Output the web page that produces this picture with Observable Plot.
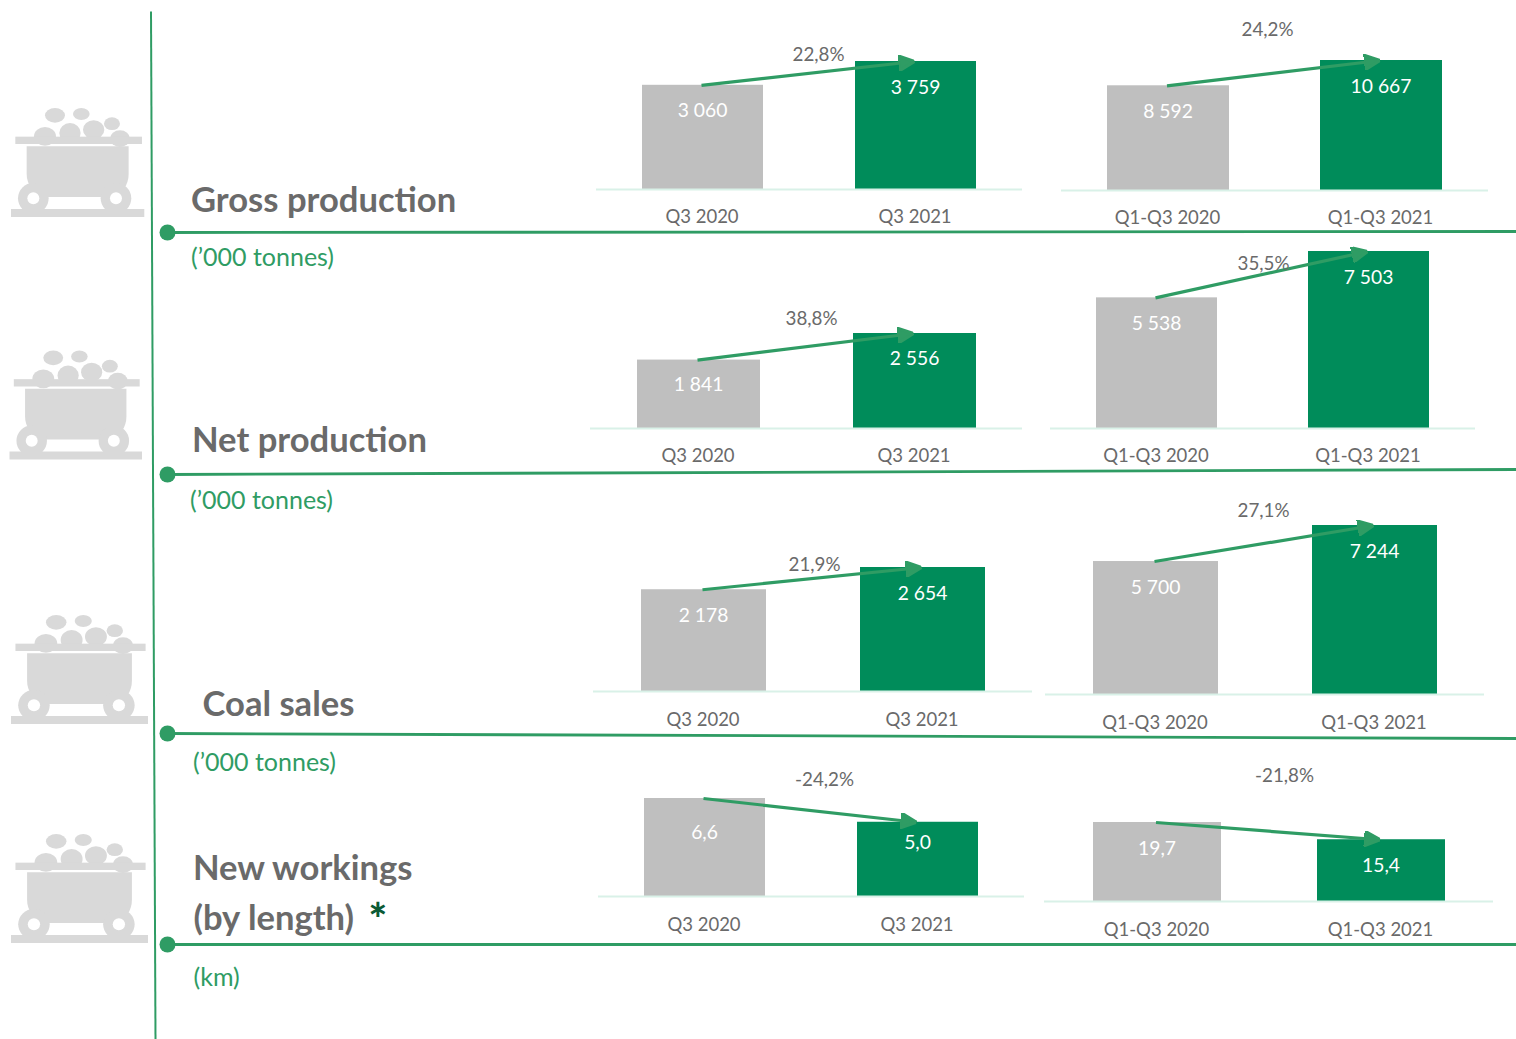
<!DOCTYPE html>
<html>
<head>
<meta charset="utf-8">
<script src="https://cdn.jsdelivr.net/npm/d3@7"></script>
<script src="https://cdn.jsdelivr.net/npm/@observablehq/plot@0.6"></script>
<style>
  html, body { margin: 0; padding: 0; background: #fff; overflow: hidden; }
  #page { position: relative; width: 1516px; height: 1039px; overflow: hidden; }
</style>
</head>
<body>
<div id="page"></div>
<script>
// Reporting periods
const quarterPeriods = ["Q3 2020", "Q3 2021"];
const ytdPeriods = ["Q1-Q3 2020", "Q1-Q3 2021"];

// Output figures, prior year then current year
const grossQuarter = [3060, 3759];
const grossYtd = [8592, 10667];
const netQuarter = [1841, 2556];
const netYtd = [5538, 7503];
const salesQuarter = [2178, 2654];
const salesYtd = [5700, 7244];
const workingsQuarter = [6.6, 5.0];
const workingsYtd = [19.7, 15.4];

// Year-on-year change labels
const grossChange = ["22,8%", "24,2%"];
const netChange = ["38,8%", "35,5%"];
const salesChange = ["21,9%", "27,1%"];
const workingsChange = ["-24,2%", "-21,8%"];

// Palette and type
const GREY_BAR = "#bfbfbf";
const GREEN_BAR = "#008c5a";
const LINE_GREEN = "#2f9c64";
const TEXT_GREY = "#6a6a6a";
const BASE_LINE = "#d9f1e8";
const CART_GREY = "#d9d9d9";
const FONT = "Lato, Carlito, sans-serif";

const ru = d3.formatLocale({decimal: ",", thousands: "\u00a0", grouping: [3], currency: ["", ""]});
const fmtInt = ru.format(",d");
const fmtDec = ru.format(",.1f");

// Panel placement on the page: baseline extent, tallest bar top, and where its change label sits
const panels = [
  {periods: quarterPeriods, values: grossQuarter, change: grossChange[0], fmt: fmtInt, left: 596, right: 1022, base: 189, top: 61, barW: 121, changeX: 818, changeY: 54, inset: [26, 26], axisGap: 20},
  {periods: ytdPeriods, values: grossYtd, change: grossChange[1], fmt: fmtInt, left: 1061, right: 1488, base: 190, top: 60, barW: 122, changeX: 1267, changeY: 29, inset: [26, 26], axisGap: 20},
  {periods: quarterPeriods, values: netQuarter, change: netChange[0], fmt: fmtInt, left: 590, right: 1022, base: 428, top: 333, barW: 123, changeX: 811, changeY: 318, inset: [25, 25], axisGap: 20},
  {periods: ytdPeriods, values: netYtd, change: netChange[1], fmt: fmtInt, left: 1050, right: 1475, base: 428, top: 251, barW: 121, changeX: 1263, changeY: 263, inset: [26, 26], axisGap: 20},
  {periods: quarterPeriods, values: salesQuarter, change: salesChange[0], fmt: fmtInt, left: 593, right: 1032, base: 691, top: 567, barW: 125, changeX: 814, changeY: 564, inset: [26, 26], axisGap: 21},
  {periods: ytdPeriods, values: salesYtd, change: salesChange[1], fmt: fmtInt, left: 1045, right: 1484, base: 694, top: 525, barW: 125, changeX: 1263, changeY: 510, inset: [26, 26], axisGap: 21},
  {periods: quarterPeriods, values: workingsQuarter, change: workingsChange[0], fmt: fmtDec, left: 598, right: 1024, base: 896, top: 798, barW: 121, changeX: 824, changeY: 779, inset: [34, 21], axisGap: 21},
  {periods: ytdPeriods, values: workingsYtd, change: workingsChange[1], fmt: fmtDec, left: 1044, right: 1493, base: 901, top: 822, barW: 128, changeX: 1284, changeY: 775, inset: [26, 26], axisGap: 21}
];

// Filled arrowhead used on the growth connectors
function filledHead(color) {
  const marker = d3.create("svg:marker")
    .attr("viewBox", "-16 -8 16 16")
    .attr("markerUnits", "userSpaceOnUse")
    .attr("markerWidth", 16)
    .attr("markerHeight", 16)
    .attr("refX", 0)
    .attr("refY", 0)
    .attr("orient", "auto");
  marker.append("path").attr("d", "M-16,-7.5L0,0L-16,7.5Z").attr("fill", color);
  return marker.node();
}

// One small bar chart per metric and period pair
function panelChart(p) {
  const marginTop = 60, marginBottom = 45;
  const width = p.right - p.left;
  const height = p.base - p.top + marginTop + marginBottom;
  const rows = p.periods.map((period, i) => ({period, value: p.values[i], inset: p.inset[i]}));
  const step = width / 2;
  const pad = 1 - p.barW / step;
  return Plot.plot({
    width, height,
    marginTop, marginBottom, marginLeft: 0, marginRight: 0,
    style: {position: "absolute", left: `${p.left}px`, top: `${p.top - marginTop}px`, background: "transparent", overflow: "visible", fontFamily: FONT},
    x: {domain: p.periods, paddingInner: pad, paddingOuter: pad / 2, axis: null},
    y: {domain: [0, d3.max(p.values)], axis: null},
    color: {domain: p.periods, range: [GREY_BAR, GREEN_BAR]},
    marks: [
      Plot.barY(rows, {x: "period", y: "value", fill: "period"}),
      Plot.ruleY([0], {stroke: BASE_LINE, strokeWidth: 2}),
      Plot.axisX({domain: p.periods, anchor: "bottom", tickSize: 0, tickPadding: p.axisGap, label: null, fontSize: 18.5, fill: TEXT_GREY, dx: -1}),
      ...rows.map(r => Plot.text([r], {x: "period", y: "value", text: d => p.fmt(d.value), dy: r.inset, dx: -0.5, fill: "white", fontSize: 19.3})),
      Plot.link([rows], {
        x1: r => r[0].period, y1: r => r[0].value,
        x2: r => r[1].period, y2: r => r[1].value,
        stroke: LINE_GREEN, strokeWidth: 3.2, markerEnd: filledHead, dx: -1.5
      }),
      Plot.text([p.change], {frameAnchor: "top-left", dx: p.changeX - p.left, dy: p.changeY - p.top, lineAnchor: "middle", textAnchor: "middle", fill: TEXT_GREY, fontSize: 18.8})
    ]
  });
}

// Section headings, dividers and the pictograms beside them
const headings = [
  {text: "Gross production", x: 190.5, y: 200.5},
  {text: "Net production", x: 191.5, y: 440.5},
  {text: "Coal sales", x: 202, y: 704.5},
  {text: "New workings", x: 192.5, y: 868.5},
  {text: "(by length)", x: 193, y: 918.5}
];
const units = [
  {text: "(\u2019000 tonnes)", x: 190.5, y: 257},
  {text: "(\u2019000 tonnes)", x: 189.5, y: 500},
  {text: "(\u2019000 tonnes)", x: 192.5, y: 762},
  {text: "(km)", x: 193, y: 977}
];
const dividers = [
  {x1: 167, y1: 232, x2: 1516, y2: 231},
  {x1: 167, y1: 474, x2: 1516, y2: 469},
  {x1: 167, y1: 733, x2: 1516, y2: 738},
  {x1: 167, y1: 944, x2: 1516, y2: 944}
];
const spine = [{x1: 150.5, y1: 11, x2: 155, y2: 1039}];
const carts = [
  {x: 11, y: 217, w: 133.3},
  {x: 9.5, y: 459.5, w: 132.5},
  {x: 11, y: 724, w: 137},
  {x: 11, y: 943, w: 137}
];

// Mine cart pictogram, authored on a 400-unit-wide grid with the rail's bottom-left at the origin
function cartPictogram() {
  const g = d3.create("svg:g");
  for (const c of carts) {
    const cart = g.append("g").attr("transform", `translate(${c.x},${c.y}) scale(${c.w / 400},${1 / 3})`).attr("fill", CART_GREY);
    const rocks = [[102, -242, 33, 28], [132, -305, 30, 22], [211, -309, 25, 18], [177, -252, 32, 30], [248, -262, 32, 28], [303, -280, 24, 19], [327, -235, 30, 25]];
    const drawRock = ([cx, cy, rx, ry]) => cart.append("ellipse").attr("cx", cx).attr("cy", cy).attr("rx", rx).attr("ry", ry);
    rocks.forEach(drawRock);
    cart.append("rect").attr("x", 13).attr("y", -241).attr("width", 380).attr("height", 22);
    cart.append("path").attr("d", "M47,-212H353V-130C353,-95 335,-75 305,-60H97C67,-75 47,-95 47,-130Z");
    for (const cx of [67, 315]) {
      cart.append("circle").attr("cx", cx).attr("cy", -56).attr("r", 46);
      cart.append("circle").attr("cx", cx).attr("cy", -56).attr("r", 18).attr("fill", "#fff");
    }
    cart.append("rect").attr("x", 0).attr("y", -24).attr("width", 400).attr("height", 24);
  }
  return g.node();
}

const backdrop = Plot.plot({
  width: 1516, height: 1039,
  margin: 0,
  style: {position: "absolute", left: 0, top: 0, background: "transparent", fontFamily: FONT},
  x: {type: "identity", axis: null},
  y: {type: "identity", axis: null},
  marks: [
    cartPictogram,
    Plot.link(spine, {x1: "x1", y1: "y1", x2: "x2", y2: "y2", stroke: LINE_GREEN, strokeWidth: 2}),
    Plot.link(dividers, {x1: "x1", y1: "y1", x2: "x2", y2: "y2", stroke: LINE_GREEN, strokeWidth: 2.8}),
    Plot.dot(dividers, {x: "x1", y: "y1", r: 8, fill: LINE_GREEN}),
    Plot.text(headings, {x: "x", y: "y", text: "text", textAnchor: "start", lineAnchor: "middle", fontWeight: 700, fontSize: 34.6, fill: TEXT_GREY}),
    Plot.text(["*"], {x: [368], y: [920], textAnchor: "start", lineAnchor: "middle", fontWeight: 900, fontSize: 44, fill: "#0b5a35"}),
    Plot.text(units, {x: "x", y: "y", text: "text", textAnchor: "start", lineAnchor: "middle", fontSize: 25, fill: LINE_GREEN})
  ]
});

const page = document.getElementById("page");
page.appendChild(backdrop);
panels.forEach(p => page.appendChild(panelChart(p)));
</script>
</body>
</html>
